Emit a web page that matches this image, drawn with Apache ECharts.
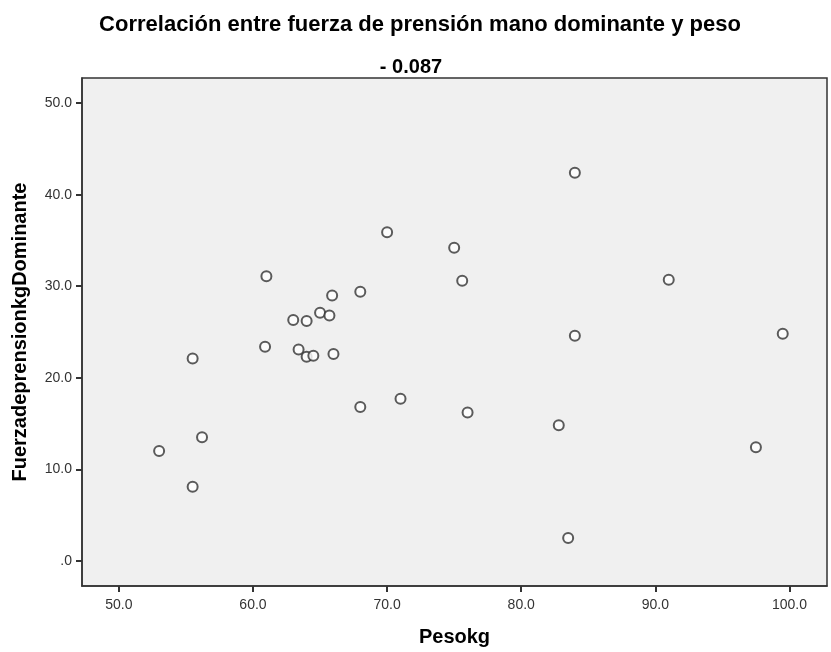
<!DOCTYPE html>
<html>
<head>
	<meta charset="UTF-8">
	<title>Correlación fuerza de prensión y peso</title>
	<script src="https://cdn.jsdelivr.net/npm/echarts@6/dist/echarts.min.js"></script>
	<style>
		html, body { margin: 0; padding: 0; background: #fff; }
		#chart { width: 831px; height: 652px; }
	</style>
</head>
<body>

<div id="chart"></div>

<script type="text/javascript">

        // datos (peso en kg, fuerza en kg)
        var pesoKg = [53.0, 55.5, 55.5, 56.2, 61.0, 60.9, 63.0, 63.4, 64.0, 64.0,
            64.5, 65.0, 65.7, 65.9, 66.0, 68.0, 68.0, 70.0, 71.0, 75.0,
            75.6, 76.0, 82.8, 83.5, 84.0, 84.0, 91.0, 97.5, 99.5];
        var fuerzaDominante = [12.0, 22.1, 8.1, 13.5, 31.1, 23.4, 26.3, 23.1, 26.2, 22.3,
            22.4, 27.1, 26.8, 29.0, 22.6, 29.4, 16.8, 35.9, 17.7, 34.2,
            30.6, 16.2, 14.8, 2.5, 24.6, 42.4, 30.7, 12.4, 24.8];

        var xTicks = [50, 60, 70, 80, 90, 100];
        var yTicks = [0, 10, 20, 30, 40, 50];

        var tituloTexto = 'Correlación entre fuerza de prensión mano dominante y peso';
        var subtituloTexto = '- 0.087';

        var puntos = [];
        for (var i = 0; i < pesoKg.length; i++) {
            puntos.push([pesoKg[i], fuerzaDominante[i]]);
        }

        // formato tipo SPSS: 0 -> ".0"
        function fmt(v) {
            var s = v.toFixed(1);
            return s === '0.0' ? '.0' : s;
        }

        var fuente = '"Liberation Sans", Arial, sans-serif';

        var myChart = echarts.init(document.getElementById('chart'));
        var option = {
            backgroundColor: '#ffffff',
            animation: false,
            title: [{
                text: tituloTexto,
                left: 415,
                top: 9,
                textAlign: 'center',
                textStyle: { fontFamily: fuente, fontSize: 22, fontWeight: 'bold', color: '#000' }
            }, {
                text: subtituloTexto,
                left: 406,
                top: 52,
                textAlign: 'center',
                textStyle: { fontFamily: fuente, fontSize: 20, fontWeight: 'bold', color: '#000' }
            }],
            grid: {
                left: 82,
                top: 78,
                right: 4,
                bottom: 65,
                show: true,
                backgroundColor: '#f0f0f0',
                borderColor: '#333',
                borderWidth: 1.5
            },
            xAxis: {
                type: 'value',
                min: 47.25,
                max: 102.8,
                name: 'Pesokg',
                nameLocation: 'middle',
                nameGap: 41,
                nameTextStyle: { fontFamily: fuente, fontSize: 20, fontWeight: 'bold', color: '#000' },
                splitLine: { show: false },
                axisLine: { show: true, onZero: false, lineStyle: { color: '#333', width: 1.5 } },
                axisTick: { show: true, length: 6, customValues: xTicks, lineStyle: { color: '#333', width: 2 } },
                axisLabel: {
                    customValues: xTicks,
                    margin: 12,
                    fontFamily: fuente, fontSize: 14, color: '#333',
                    formatter: fmt
                }
            },
            yAxis: {
                type: 'value',
                min: -2.75,
                max: 52.75,
                name: 'FuerzadeprensionkgDominante',
                nameLocation: 'middle',
                nameGap: 52,
                nameTextStyle: { fontFamily: fuente, fontSize: 20, fontWeight: 'bold', color: '#000' },
                splitLine: { show: false },
                axisLine: { show: true, onZero: false, lineStyle: { color: '#333', width: 1.5 } },
                axisTick: { show: true, length: 6, customValues: yTicks, lineStyle: { color: '#333', width: 2 } },
                axisLabel: {
                    customValues: yTicks,
                    margin: 10,
                    fontFamily: fuente, fontSize: 14, color: '#333',
                    formatter: fmt
                }
            },
            series: [{
                type: 'scatter',
                data: puntos,
                symbol: 'emptyCircle',
                symbolSize: 10,
                itemStyle: { color: '#333', borderColor: '#333', borderWidth: 1.6 }
            }]
        };
        myChart.setOption(option);

</script>

</body>
</html>
